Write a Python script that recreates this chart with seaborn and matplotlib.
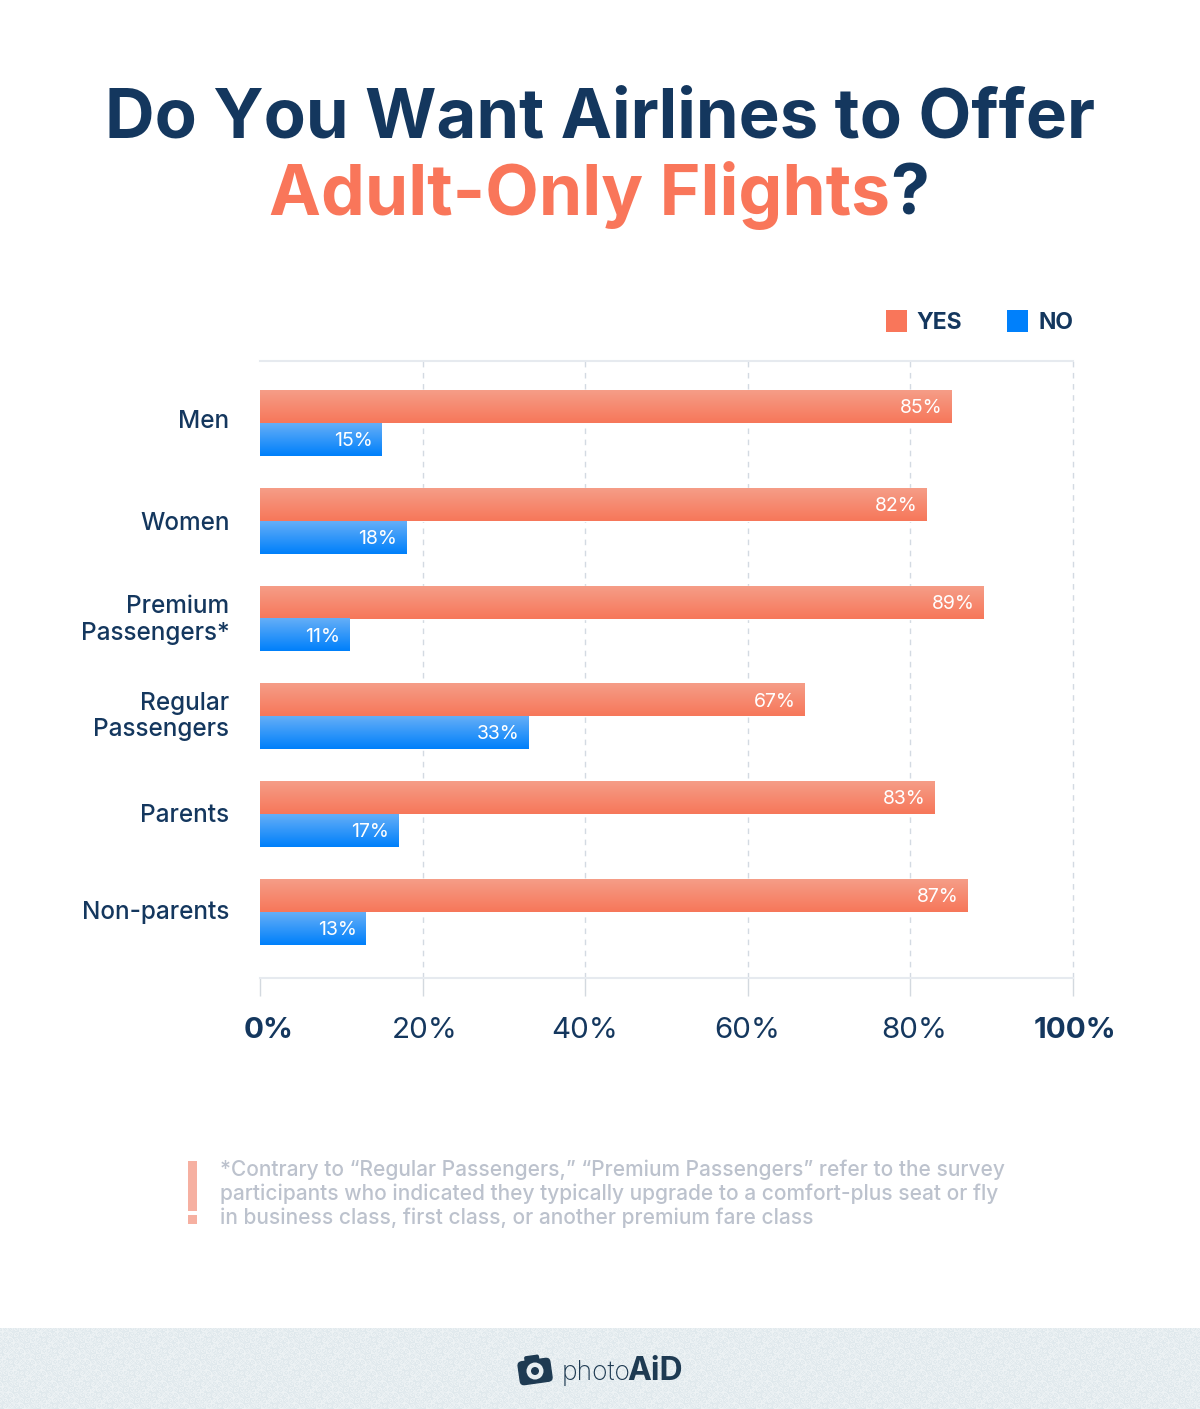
import numpy as np
import pandas as pd
import seaborn as sns
import matplotlib.pyplot as plt
from matplotlib.colors import to_rgb, LinearSegmentedColormap
from matplotlib.patches import Patch, Rectangle, Circle, FancyBboxPatch
from matplotlib.transforms import Affine2D, ScaledTranslation

# data
groups = ['Men', 'Women', 'Premium\nPassengers*', 'Regular\nPassengers', 'Parents', 'Non-parents']
yes_values = [85, 82, 89, 67, 83, 87]
no_values = [15, 18, 11, 33, 17, 13]
x_ticks = [0, 20, 40, 60, 80, 100]

NAVY = '#14375e'
CORAL = '#f9765a'
BLUE = '#0080fb'
FOOT = '#bcc2cd'
FONT = 'Inter'

df = pd.DataFrame({
    'group': groups * 2,
    'answer': ['YES'] * 6 + ['NO'] * 6,
    'pct': yes_values + no_values,
})

sns.set_theme(style='white')
plt.rcParams['font.family'] = [FONT, 'DejaVu Sans']

fig = plt.figure(figsize=(12, 14.09), dpi=100, facecolor='white')

# whole-figure layer in pixel coordinates, for the title, note and footer
bg = fig.add_axes([0, 0, 1, 1])
bg.axis('off')

# main axes
ax = fig.add_axes([260 / 1200, 1 - 978 / 1409, 813 / 1200, 617 / 1409])
ax.patch.set_alpha(0)
sns.barplot(data=df, y='group', x='pct', hue='answer', palette={'YES': CORAL, 'NO': BLUE},
            width=0.67, gap=0, saturation=1, legend=False, ax=ax)
ax.set_xlabel('')
ax.set_ylabel('')

# gradient on every bar
gradients = [('#f59d87', '#f7775a'), ('#64aef7', '#0080fb')]
for cont, (top, bottom) in zip(ax.containers, gradients):
    ramp = np.linspace(to_rgb(top), to_rgb(bottom), 40)[:, None, :]
    for bar in cont.patches:
        x0, y0, w, h = bar.get_x(), bar.get_y(), bar.get_width(), bar.get_height()
        ax.imshow(ramp, extent=(x0, x0 + w, y0 + h, y0), aspect='auto', zorder=3, interpolation='bilinear')
ax.set_xlim(0, 100)
ax.set_ylim(5.675, -0.634)

for cont in ax.containers:
    labels = ax.bar_label(cont, fmt='%d%%', padding=-6.5, color='white', fontsize=14, zorder=5)
    for t in labels:
        t.set_ha('right')
        t.xyann = (t.xyann[0], t.xyann[1] - 1.2)

# axes styling
ax.grid(axis='x', ls=(0, (4, 4)), color='#d3dae2', lw=1)
ax.grid(axis='y', visible=False)
ax.set_axisbelow(True)
for side in ['left', 'right']:
    ax.spines[side].set_visible(False)
for side in ['top', 'bottom']:
    ax.spines[side].set_color('#e6eaef')
    ax.spines[side].set_linewidth(1.5)

ax.set_xticks(x_ticks)
ax.set_xticklabels([f'{v}%' for v in x_ticks])
ax.tick_params(axis='x', length=13, width=1, color='#d3d9df', pad=15, labelsize=21.3, labelcolor=NAVY, bottom=True)
ax.tick_params(axis='y', length=0, pad=22, labelsize=17.5, labelcolor=NAVY)
ax.xaxis.get_gridlines()[0].set_visible(False)
for line in ax.xaxis.get_gridlines():
    line.set_clip_on(False)

# the group labels do not sit quite evenly in the reference
label_nudge = [4, 0, 3, 4, 1, 2]
for nudge, t in zip(label_nudge, ax.get_yticklabels()):
    t.set_fontweight('medium')
    t.set_linespacing(1.19)
    t.set_transform(t.get_transform() + ScaledTranslation(0, nudge / 100, fig.dpi_scale_trans))

x_shift = {0: 9, 20: 2, 40: -1, 60: -1, 80: 4, 100: 2}
for v, t in zip(x_ticks, ax.get_xticklabels()):
    t.set_transform(t.get_transform() + ScaledTranslation(x_shift[v] / 100, 0, fig.dpi_scale_trans))
    if v in (0, 100):
        t.set_fontweight('bold')

# legend
handles = [Patch(color=CORAL, lw=0), Patch(color=BLUE, lw=0)]
leg = ax.legend(handles, ['YES', 'NO'], ncol=2, frameon=False, loc='center right',
                bbox_to_anchor=(1073 / 1200, 1 - 322 / 1409), bbox_transform=fig.transFigure,
                fontsize=16.5, handlelength=0.92, handleheight=1.05, handletextpad=0.42,
                columnspacing=1.96, borderpad=0, borderaxespad=0)
for t in leg.get_texts():
    t.set_color(NAVY)
    t.set_fontweight('bold')

# footer background with a faint speckle
yy, xx = np.mgrid[0:81, 0:1200]
speckle = ((xx * 7 + yy * 13 + (xx * yy) % 11) % 5) / 4
foot_cmap = LinearSegmentedColormap.from_list('foot', ['#dfe8ec', '#edf2f4'])
bg.imshow(speckle, extent=(0, 1200, 1409, 1328), cmap=foot_cmap, aspect='auto', interpolation='nearest')
bg.set_xlim(0, 1200)
bg.set_ylim(1409, 0)

# title
bg.text(600, 119, 'Do You Want Airlines to Offer', ha='center', va='center', fontsize=49.6,
        fontweight='bold', color=NAVY)
bg.text(890, 196, 'Adult-Only Flights', ha='right', va='center', fontsize=50.1, fontweight='bold', color=CORAL)
bg.text(890, 196, '?', ha='left', va='center', fontsize=50.1, fontweight='bold', color=NAVY)

# footnote
bg.add_patch(Rectangle((188, 1161), 9, 50, color='#f6b0a1', lw=0))
bg.add_patch(Rectangle((188, 1215), 9, 9, color='#f6b0a1', lw=0))
note_lines = ['*Contrary to “Regular Passengers,” “Premium Passengers” refer to the survey',
              'participants who indicated they typically upgrade to a comfort-plus seat or fly',
              'in business class, first class, or another premium fare class']
for y, line in zip([1169.5, 1193.5, 1217.5], note_lines):
    bg.text(220, y, line, ha='left', va='center', fontsize=15.05, fontweight='medium', color=FOOT)

# logo
LOGO = '#1e3a52'
tilt = Affine2D().rotate_deg_around(535, 1371, -8) + bg.transData
bg.add_patch(FancyBboxPatch((519, 1360), 32, 23, boxstyle='round,pad=0,rounding_size=4', color=LOGO, lw=1, transform=tilt))
bg.add_patch(FancyBboxPatch((526, 1355), 15, 9, boxstyle='round,pad=0,rounding_size=2', color=LOGO, lw=0, transform=tilt))
bg.add_patch(Circle((535, 1371), 8.5, color='#e8eef1', lw=0))
bg.add_patch(Circle((535, 1371), 4, color=LOGO, lw=0))
bg.text(562, 1380, 'photo', ha='left', va='baseline', fontsize=19, fontweight='light', color=LOGO)
bg.text(683, 1380, 'AiD', ha='right', va='baseline', fontsize=23, fontweight='bold', color=LOGO)

plt.savefig('out.png', dpi=100)
plt.close()
